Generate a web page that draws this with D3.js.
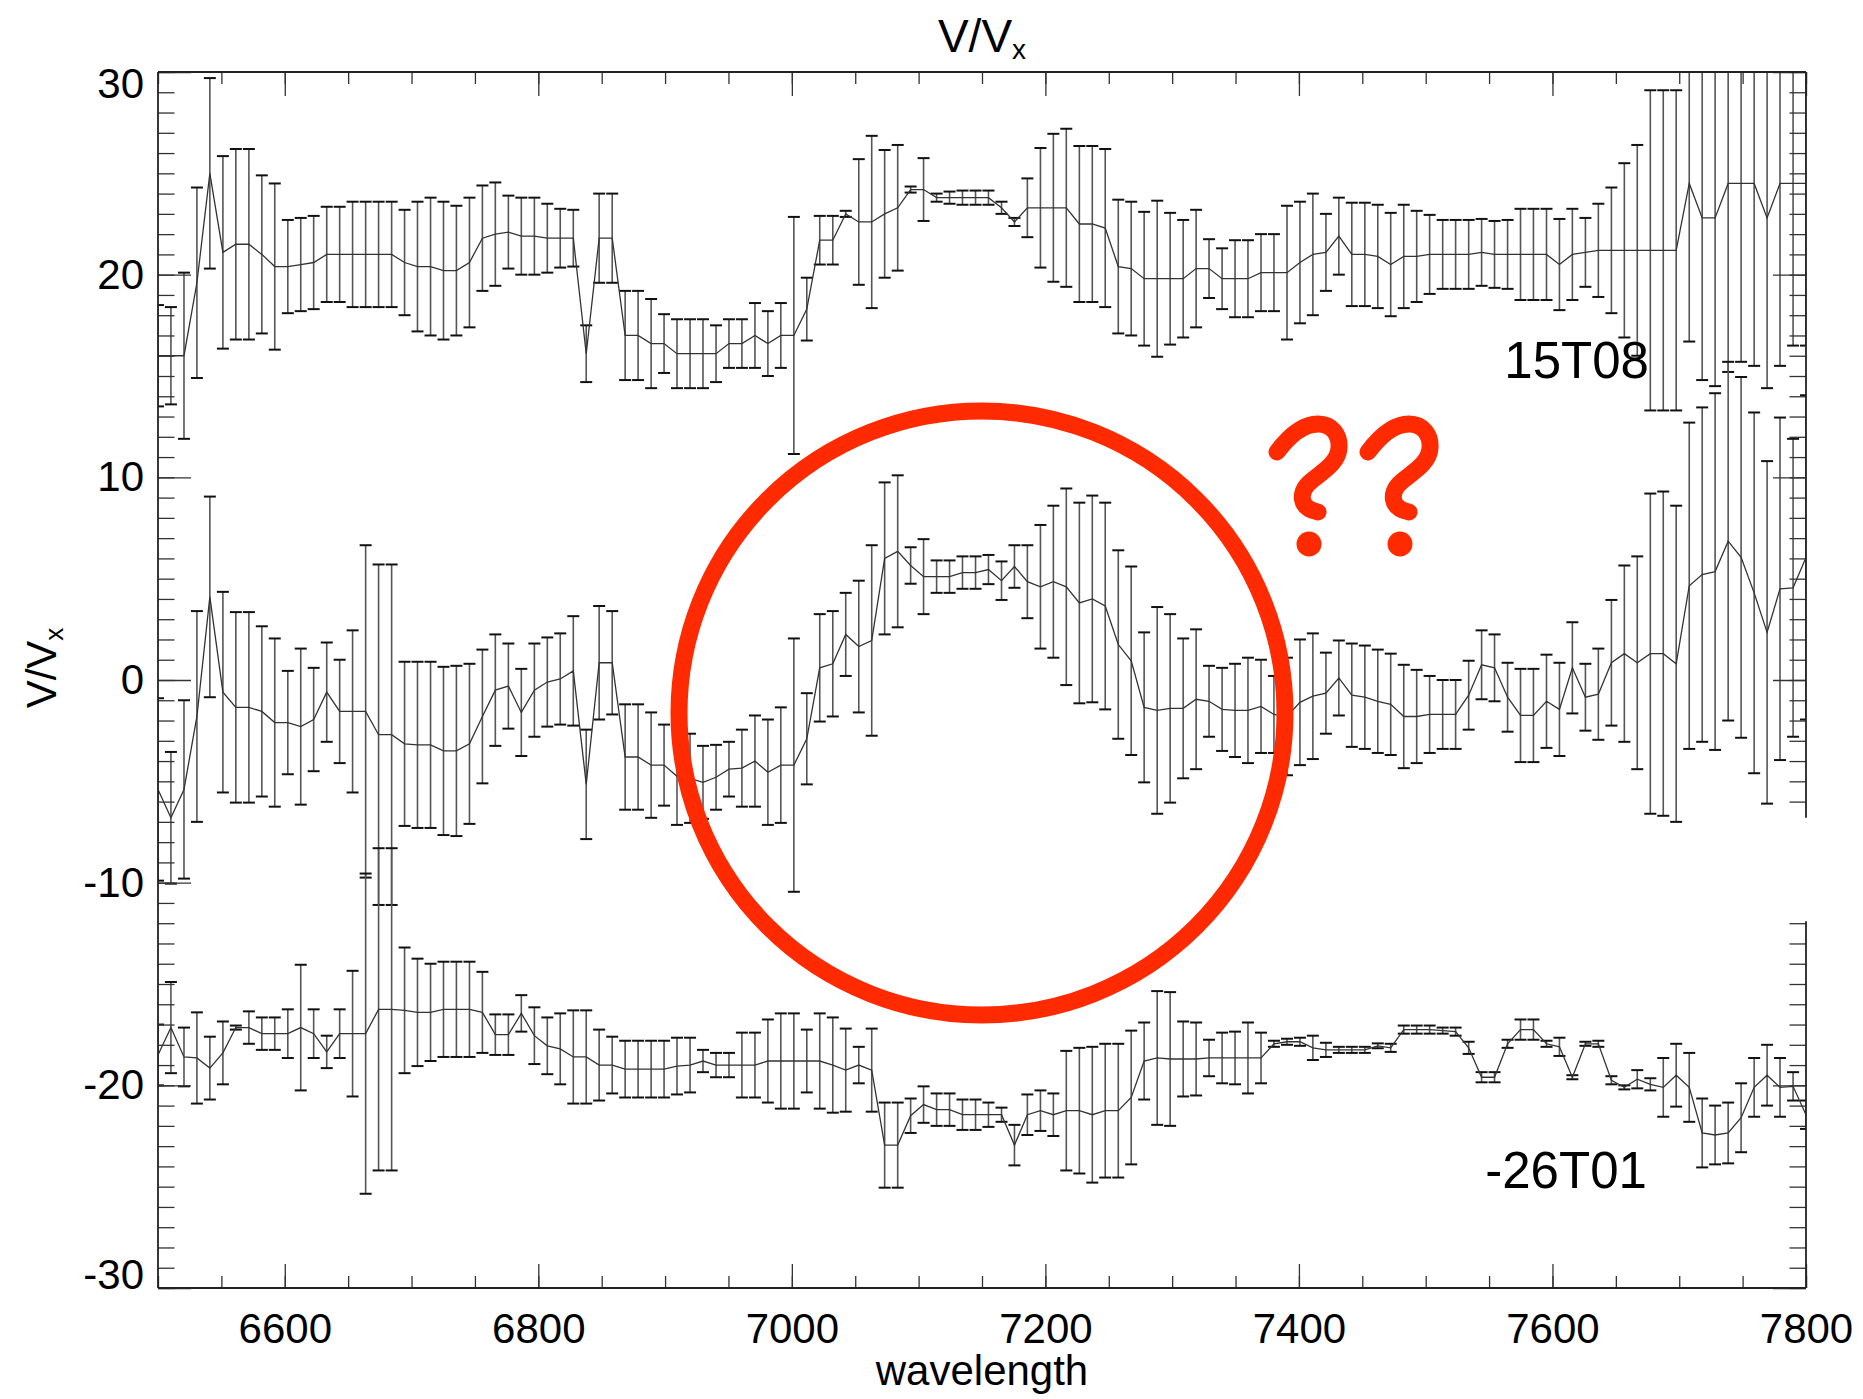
<!DOCTYPE html>
<html>
<head>
<meta charset="utf-8">
<script src="https://cdn.jsdelivr.net/npm/d3@7"></script>
<style>
body { margin: 0; background: #fff; }
svg { display: block; font-family: "Liberation Sans", Arial, Helvetica, sans-serif; }
</style>
</head>
<body>
<div id="canvas"></div>
<script>
// wavelength grid of the spectrum (Angstrom)
const wavelength = [
  6500.0, 6510.2, 6520.5, 6530.7, 6540.9, 6551.2, 6561.4, 6571.7, 6581.9, 6592.1,
  6602.4, 6612.6, 6622.8, 6633.1, 6643.3, 6653.5, 6663.8, 6674.0, 6684.3, 6694.5,
  6704.7, 6715.0, 6725.2, 6735.4, 6745.7, 6755.9, 6766.1, 6776.4, 6786.6, 6796.9,
  6807.1, 6817.3, 6827.6, 6837.8, 6848.0, 6858.3, 6868.5, 6878.7, 6889.0, 6899.2,
  6909.4, 6919.7, 6929.9, 6940.2, 6950.4, 6960.6, 6970.9, 6981.1, 6991.3, 7001.6,
  7011.8, 7022.0, 7032.3, 7042.5, 7052.8, 7063.0, 7073.2, 7083.5, 7093.7, 7103.9,
  7114.2, 7124.4, 7134.6, 7144.9, 7155.1, 7165.4, 7175.6, 7185.8, 7196.1, 7206.3,
  7216.5, 7226.8, 7237.0, 7247.2, 7257.5, 7267.7, 7277.9, 7288.2, 7298.4, 7308.7,
  7318.9, 7329.1, 7339.4, 7349.6, 7359.8, 7370.1, 7380.3, 7390.6, 7400.8, 7411.0,
  7421.3, 7431.5, 7441.7, 7452.0, 7462.2, 7472.4, 7482.7, 7492.9, 7503.1, 7513.4,
  7523.6, 7533.9, 7544.1, 7554.3, 7564.6, 7574.8, 7585.0, 7595.3, 7605.5, 7615.7,
  7626.0, 7636.2, 7646.5, 7656.7, 7666.9, 7677.2, 7687.4, 7697.6, 7707.9, 7718.1,
  7728.3, 7738.6, 7748.8, 7759.1, 7769.3, 7779.5, 7789.8, 7800.0
];

// upper curve (15T08)
const topVal = [
  16.0, 16.0, 16.0, 19.6, 25.0, 21.1, 21.5, 21.5, 21.0, 20.4,
  20.4, 20.5, 20.6, 21.0, 21.0, 21.0, 21.0, 21.0, 21.0, 20.6,
  20.4, 20.4, 20.2, 20.2, 20.6, 21.8, 22.0, 22.1, 21.9, 21.9,
  21.8, 21.8, 21.8, 16.1, 21.8, 21.8, 17.0, 17.0, 16.6, 16.6,
  16.1, 16.1, 16.1, 16.1, 16.6, 16.6, 17.0, 16.6, 17.0, 17.0,
  18.3, 21.7, 21.7, 23.0, 22.6, 22.6, 23.0, 23.3, 24.2, 24.2,
  23.8, 23.8, 23.8, 23.8, 23.8, 23.3, 22.6, 23.3, 23.3, 23.3,
  23.3, 22.5, 22.5, 22.3, 20.4, 20.3, 19.8, 19.8, 19.8, 19.8,
  20.3, 20.3, 19.8, 19.8, 19.8, 20.1, 20.1, 20.1, 20.6, 21.0,
  21.1, 21.9, 21.0, 21.0, 20.9, 20.5, 20.9, 20.9, 21.0, 21.0,
  21.0, 21.0, 21.1, 21.0, 21.0, 21.0, 21.0, 21.0, 20.5, 21.0,
  21.1, 21.2, 21.2, 21.2, 21.2, 21.2, 21.2, 21.2, 24.5, 22.8,
  22.8, 24.5, 24.5, 24.5, 22.8, 24.5, 24.5, 24.5
];
const topErr = [
  2.5, 2.4, 4.1, 4.7, 4.7, 4.75, 4.7, 4.7, 3.9, 4.1,
  2.3, 2.3, 2.3, 2.35, 2.35, 2.6, 2.6, 2.6, 2.6, 2.6,
  3.2, 3.4, 3.4, 3.2, 3.2, 2.6, 2.55, 1.8, 1.9, 1.9,
  1.7, 1.45, 1.4, 1.4, 2.2, 2.2, 2.2, 2.2, 2.2, 1.45,
  1.7, 1.7, 1.7, 1.4, 1.2, 1.2, 1.6, 1.6, 1.6, 5.85,
  1.55, 1.2, 1.2, 0.15, 3.1, 4.25, 3.15, 3.1, 0.15, 1.55,
  0.2, 0.3, 0.35, 0.35, 0.35, 0.3, 0.2, 1.45, 2.95, 3.65,
  3.9, 3.85, 3.85, 3.9, 3.3, 3.3, 3.3, 3.85, 3.25, 2.9,
  2.9, 1.45, 1.5, 1.9, 1.9, 1.9, 1.9, 3.3, 3.0, 3.0,
  1.9, 1.9, 2.55, 2.55, 2.55, 2.55, 2.55, 2.25, 1.95, 1.7,
  1.7, 1.7, 1.65, 1.65, 1.7, 2.25, 2.25, 2.25, 2.25, 2.25,
  1.7, 2.3, 3.1, 4.3, 5.2, 7.9, 7.9, 7.9, 7.8, 8.0,
  8.3, 9.3, 8.8, 9.0, 8.4, 9.0, 8.0, 8.0
];

// middle curve
const midVal = [
  -5.4, -6.8, -5.4, -1.8, 4.1, -0.6, -1.35, -1.35, -1.55, -2.1,
  -2.1, -2.3, -1.95, -0.6, -1.55, -1.55, -1.55, -2.7, -2.7, -3.15,
  -3.2, -3.2, -3.5, -3.5, -3.15, -1.8, -0.5, -0.3, -1.6, -0.5,
  -0.1, 0.05, 0.45, -5.15, 0.85, 0.85, -3.8, -3.8, -4.2, -4.2,
  -4.75, -4.85, -5.05, -4.8, -4.4, -4.35, -4.0, -4.55, -4.2, -4.2,
  -2.9, 0.6, 0.8, 2.25, 1.65, 1.95, 6.0, 6.35, 5.65, 5.1,
  5.1, 5.1, 5.3, 5.3, 5.45, 4.9, 5.6, 4.85, 4.6, 4.85,
  4.6, 3.8, 4.0, 3.65, 1.75, 0.95, -1.35, -1.5, -1.4, -1.4,
  -0.95, -1.05, -1.45, -1.5, -1.5, -1.3, -1.7, -1.8, -1.1, -0.8,
  -0.65, 0.1, -0.75, -0.85, -1.05, -1.2, -1.8, -1.8, -1.7, -1.7,
  -1.7, -0.75, 0.75, 0.6, -0.85, -1.75, -1.75, -1.05, -1.45, 0.6,
  -0.85, -0.7, 0.85, 1.3, 0.85, 1.3, 1.3, 0.8, 4.65, 5.2,
  5.35, 6.85, 6.05, 4.3, 2.35, 4.5, 4.55, 6.05
];
const midErr = [
  4.5, 3.25, 4.4, 5.2, 4.95, 4.95, 4.7, 4.7, 4.2, 4.15,
  2.55, 3.85, 2.55, 2.45, 2.55, 4.0, 8.2, 8.4, 8.4, 4.05,
  4.1, 4.1, 4.15, 4.2, 3.95, 3.3, 2.75, 2.1, 2.15, 2.3,
  2.2, 2.25, 2.7, 2.7, 2.8, 2.55, 2.6, 2.6, 2.6, 2.0,
  2.4, 2.2, 1.8, 1.6, 1.35, 1.9, 2.25, 2.6, 2.85, 6.25,
  2.25, 2.65, 2.6, 2.05, 3.25, 4.7, 3.75, 3.75, 0.9, 1.85,
  0.8, 0.8, 0.8, 0.8, 0.72, 0.95, 1.05, 1.8, 3.05, 3.75,
  4.85, 4.95, 5.1, 5.1, 4.65, 4.65, 3.7, 5.1, 4.65, 3.45,
  3.45, 1.75, 2.05, 2.3, 2.6, 2.3, 1.9, 2.9, 3.1, 3.1,
  2.0, 1.85, 2.55, 2.55, 2.55, 2.5, 2.55, 2.3, 1.9, 1.7,
  1.7, 1.7, 1.7, 1.65, 1.7, 2.3, 2.3, 2.3, 2.3, 2.25,
  1.65, 2.25, 3.1, 4.35, 5.25, 7.9, 8.0, 7.8, 8.05, 8.25,
  8.8, 8.85, 8.9, 8.9, 8.45, 8.45, 7.35, 8.0
];

// lower curve (-26T01)
const lowVal = [
  -18.5, -17.15, -18.6, -18.65, -19.15, -18.4, -17.15, -17.15, -17.45, -17.45,
  -17.45, -17.15, -17.45, -18.35, -17.45, -17.45, -17.45, -16.25, -16.25, -16.3,
  -16.4, -16.4, -16.25, -16.25, -16.25, -16.4, -17.5, -17.5, -16.45, -17.55,
  -18.05, -18.2, -18.6, -18.6, -19.0, -19.0, -19.2, -19.2, -19.2, -19.2,
  -19.05, -19.0, -18.8, -19.0, -19.0, -19.0, -19.0, -18.8, -18.8, -18.8,
  -18.8, -18.8, -19.0, -19.25, -19.0, -19.25, -22.95, -22.95, -21.5, -20.95,
  -21.2, -21.2, -21.45, -21.45, -21.45, -21.45, -22.95, -21.45, -21.25, -21.45,
  -21.25, -21.25, -21.45, -21.25, -21.25, -20.6, -18.8, -18.65, -18.7, -18.7,
  -18.7, -18.65, -18.65, -18.65, -18.65, -18.65, -17.95, -17.85, -17.85, -18.15,
  -18.25, -18.25, -18.25, -18.25, -18.05, -18.15, -17.25, -17.25, -17.25, -17.3,
  -17.35, -18.15, -19.6, -19.6, -17.95, -17.25, -17.25, -17.95, -18.1, -19.6,
  -17.95, -17.95, -19.75, -20.1, -19.7, -19.95, -20.1, -19.5, -20.1, -22.35,
  -22.45, -22.35, -21.6, -20.1, -19.5, -20.1, -20.05, -21.45
];
const lowErr = [
  1.5, 2.25, 1.45, 2.25, 1.55, 1.55, 0.1, 0.8, 0.8, 0.8,
  1.2, 3.1, 1.2, 0.8, 1.2, 3.1, 7.9, 7.95, 7.95, 3.1,
  2.65, 2.4, 2.35, 2.35, 2.35, 2.0, 1.0, 1.0, 0.9, 1.4,
  1.4, 1.75, 2.3, 2.3, 1.75, 1.4, 1.4, 1.4, 1.4, 1.4,
  1.4, 1.35, 0.55, 0.6, 0.6, 1.6, 1.6, 2.05, 2.35, 2.35,
  1.55, 2.35, 2.35, 2.05, 0.9, 2.05, 2.1, 2.1, 0.85, 0.9,
  0.8, 0.8, 0.75, 0.75, 0.6, 0.35, 1.0, 1.0, 1.0, 1.05,
  2.95, 3.1, 3.35, 3.3, 3.3, 3.3, 1.9, 3.3, 3.3, 1.85,
  1.8, 0.9, 1.25, 1.3, 1.75, 1.25, 0.15, 0.15, 0.2, 0.6,
  0.35, 0.15, 0.15, 0.15, 0.12, 0.2, 0.2, 0.2, 0.2, 0.15,
  0.2, 0.3, 0.25, 0.25, 0.2, 0.5, 0.5, 0.15, 0.45, 0.1,
  0.1, 0.15, 0.2, 0.1, 0.45, 0.3, 1.45, 1.55, 1.7, 1.7,
  1.45, 1.5, 1.7, 1.45, 1.5, 1.45, 0.7, 0.7
];

const xTicks = [6600, 6800, 7000, 7200, 7400, 7600, 7800];
const xMinor = d3.range(6500, 7801, 50);
const yTicks = [-30, -20, -10, 0, 10, 20, 30];
const yMinor = d3.range(-30, 31, 1);
const curveLabels = [
  {text: "15T08", wl: 7562, v: 14.9},
  {text: "-26T01", wl: 7547, v: -25.05}
];

const W = 1863, H = 1399;
const pL = 158, pR = 1806, pT = 72, pB = 1288;
const font = '"Liberation Sans", Arial, Helvetica, sans-serif';
const red = "#ff2a00";

const svg = d3.select("#canvas").append("svg")
    .attr("width", W)
    .attr("height", H);

const x = d3.scaleLinear().domain([6500, 7800]).range([pL, pR]);
const y = d3.scaleLinear().domain([-30, 30]).range([pB, pT]);

svg.append("defs").append("clipPath").attr("id", "plotclip")
  .append("rect")
    .attr("x", pL).attr("y", pT)
    .attr("width", pR - pL).attr("height", pB - pT);

const plot = svg.append("g").attr("clip-path", "url(#plotclip)");

function drawSeries(vals, errs) {
  const pts = wavelength.map((w, i) => ({w: w, v: vals[i], e: errs[i]}));
  const g = plot.append("g");
  g.selectAll("line.bar").data(pts).enter().append("line")
      .attr("class", "bar")
      .attr("x1", d => x(d.w)).attr("x2", d => x(d.w))
      .attr("y1", d => y(d.v + d.e)).attr("y2", d => y(d.v - d.e))
      .attr("stroke", "#555").attr("stroke-width", 1.6);
  const caps = [];
  pts.forEach(d => { caps.push({w: d.w, v: d.v + d.e}); caps.push({w: d.w, v: d.v - d.e}); });
  g.selectAll("line.cap").data(caps).enter().append("line")
      .attr("class", "cap")
      .attr("x1", d => x(d.w) - 6).attr("x2", d => x(d.w) + 6)
      .attr("y1", d => y(d.v)).attr("y2", d => y(d.v))
      .attr("stroke", "#111").attr("stroke-width", 2);
  g.append("path").datum(pts)
      .attr("fill", "none")
      .attr("stroke", "#333")
      .attr("stroke-width", 1.3)
      .attr("d", d3.line().x(d => x(d.w)).y(d => y(d.v)));
}

drawSeries(topVal, topErr);
drawSeries(midVal, midErr);
drawSeries(lowVal, lowErr);

// axes, ticks pointing inward
function styleAxis(g) {
  g.select(".domain").remove();
  g.selectAll("line").attr("stroke", "#333").attr("stroke-width", 1.3);
  g.attr("font-family", font).attr("font-size", 42);
  g.selectAll("text").attr("fill", "#000");
}

svg.append("g").attr("transform", `translate(0,${pB})`)
  .call(d3.axisBottom(x).tickValues(xMinor).tickSize(-12).tickFormat(""))
  .call(styleAxis);
svg.append("g").attr("transform", `translate(0,${pB})`)
  .call(d3.axisBottom(x).tickValues(xTicks).tickSize(-24).tickPadding(25).tickFormat(d => String(d)))
  .call(styleAxis);
svg.append("g").attr("transform", `translate(0,${pT})`)
  .call(d3.axisTop(x).tickValues(xMinor).tickSize(-12).tickFormat(""))
  .call(styleAxis);
svg.append("g").attr("transform", `translate(0,${pT})`)
  .call(d3.axisTop(x).tickValues(xTicks).tickSize(-24).tickFormat(""))
  .call(styleAxis);

svg.append("g").attr("transform", `translate(${pL},0)`)
  .call(d3.axisLeft(y).tickValues(yMinor).tickSize(-16.5).tickFormat(""))
  .call(styleAxis);
const yAx = svg.append("g").attr("transform", `translate(${pL},0)`)
  .call(d3.axisLeft(y).tickValues(yTicks).tickSize(-33).tickPadding(14).tickFormat(d => String(d)))
  .call(styleAxis);
yAx.selectAll(".tick text")
  .attr("dy", d => d === 30 ? "0.6em" : d === -30 ? "0.02em" : "0.32em");

// right axis has a gap in the reference between about -6.8 and -11.9
const rightGap = [-11.9, -6.8];
const inGap = d => d > rightGap[0] && d < rightGap[1];
svg.append("g").attr("transform", `translate(${pR},0)`)
  .call(d3.axisRight(y).tickValues(yMinor.filter(d => !inGap(d))).tickSize(-16.5).tickFormat(""))
  .call(styleAxis);
svg.append("g").attr("transform", `translate(${pR},0)`)
  .call(d3.axisRight(y).tickValues(yTicks.filter(d => !inGap(d))).tickSize(-33).tickFormat(""))
  .call(styleAxis);

// frame
const frame = svg.append("g").attr("stroke", "#222").attr("stroke-width", 1.8);
frame.append("line").attr("x1", pL).attr("x2", pR).attr("y1", pT).attr("y2", pT);
frame.append("line").attr("x1", pL).attr("x2", pR).attr("y1", pB).attr("y2", pB);
frame.append("line").attr("x1", pL).attr("x2", pL).attr("y1", pT).attr("y2", pB);
frame.append("line").attr("x1", pR).attr("x2", pR).attr("y1", pT).attr("y2", y(rightGap[1]));
frame.append("line").attr("x1", pR).attr("x2", pR).attr("y1", y(rightGap[0])).attr("y2", pB);

// titles
const title = svg.append("text")
    .attr("x", (pL + pR) / 2).attr("y", 52)
    .attr("text-anchor", "middle")
    .attr("font-family", font).attr("font-size", 46);
title.append("tspan").text("V/V");
title.append("tspan").attr("font-size", 28).attr("dy", 7).text("x");

const ylab = svg.append("text")
    .attr("transform", "translate(56,668) rotate(-90)")
    .attr("text-anchor", "middle")
    .attr("font-family", font).attr("font-size", 42);
ylab.append("tspan").text("V/V");
ylab.append("tspan").attr("font-size", 26).attr("dy", 7).text("x");

svg.append("text")
    .attr("x", (pL + pR) / 2).attr("y", 1385)
    .attr("text-anchor", "middle")
    .attr("font-family", font).attr("font-size", 42)
    .text("wavelength");

svg.selectAll("text.curve").data(curveLabels).enter().append("text")
    .attr("class", "curve")
    .attr("x", d => x(d.wl)).attr("y", d => y(d.v))
    .attr("font-family", font).attr("font-size", 51)
    .text(d => d.text);

// red hand-drawn annotation
const note = svg.append("g");
note.append("ellipse")
    .attr("cx", 982).attr("cy", 713)
    .attr("rx", 303).attr("ry", 302)
    .attr("fill", "none")
    .attr("stroke", red)
    .attr("stroke-width", 17);

[0, 91].forEach(dx => {
  const q = note.append("g").attr("transform", `translate(${dx},0)`);
  q.append("path")
      .attr("d", "M1277,452 C1292,432 1306,424 1318,424 C1332,424 1340,435 1339,448 C1338,465 1318,474 1308,484 C1300,492 1298,508 1318,512")
      .attr("fill", "none")
      .attr("stroke", red)
      .attr("stroke-width", 17)
      .attr("stroke-linecap", "round")
      .attr("stroke-linejoin", "round");
  q.append("circle")
      .attr("cx", 1309).attr("cy", 544).attr("r", 12.5)
      .attr("fill", red);
});
</script>
</body>
</html>
